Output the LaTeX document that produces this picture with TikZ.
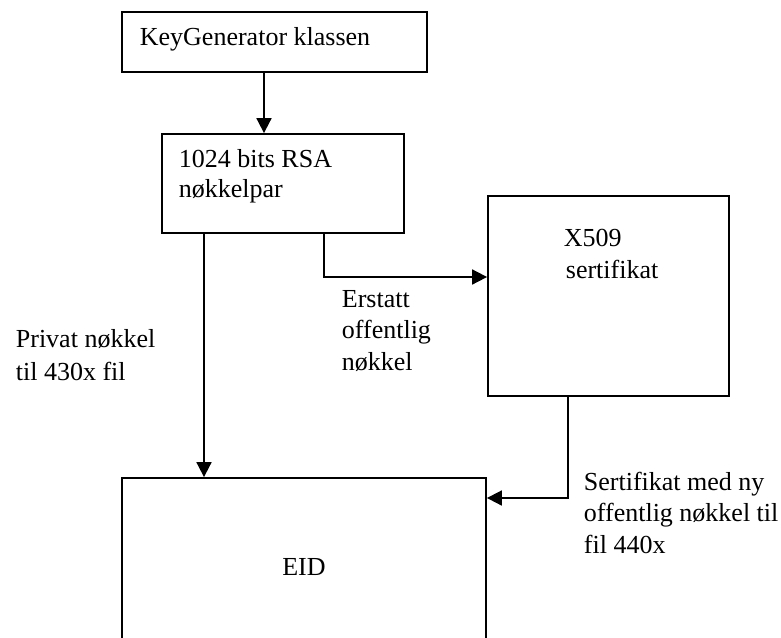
\documentclass[tikz,border=0pt]{standalone}
\usepackage{fontspec}
\setmainfont{Liberation Serif}
\usetikzlibrary{arrows.meta}
\begin{document}
\begin{tikzpicture}[x=1pt,y=-1pt,
  line width=1.8pt,
  every node/.style={font=\fontsize{26}{32}\selectfont},
  box/.style={draw, rectangle, inner sep=0pt, line width=1.8pt},
  txt/.style={anchor=base west, inner sep=0pt, align=left},
  skip/.style={font=\fontsize{26}{#1}\selectfont},
  arr/.style={-{Triangle[length=15pt,width=15pt]}}]
  \useasboundingbox (0,0) rectangle (781,637);
  \clip (0,0) rectangle (781,637);

  % boxes
  \node[box, minimum width=305pt, minimum height=60pt]  (kg)   at (274.5,42) {};
  \node[box, minimum width=242pt, minimum height=99pt]  (rsa)  at (283,183.5) {};
  \node[box, minimum width=241pt, minimum height=200pt] (x509) at (608.5,296) {};
  \node[box, minimum width=364pt, minimum height=178pt] (eid)  at (304,567) {EID};

  % box texts (anchored at the baseline of the last line)
  \node[txt] (kgtext)   at (139,45)  {KeyGenerator klassen};
  \node[txt, skip=30] (rsatext)  at (178,197) {1024 bits RSA\\nøkkelpar};
  \node[txt, skip=32] (x509text) at (563,278) {X509\\\hspace*{2pt}sertifikat};

  % connector labels
  \node[txt, skip=33]   (privat)  at (15,380)  {Privat nøkkel\\til 430x fil};
  \node[txt, skip=31.5] (erstatt) at (341,370) {Erstatt\\offentlig\\nøkkel};
  \node[txt, skip=31.5] (sert)    at (583,553) {Sertifikat med ny\\offentlig nøkkel til\\fil 440x};

  % connectors
  \draw[arr] (kg.south -| 264,0) -- (rsa.north -| 264,0);
  \draw[arr] (rsa.south -| 204,0) -- (eid.north -| 204,0);
  \draw[arr] (rsa.south -| 324,0) |- (x509.west |- 0,277);
  \draw[arr] (x509.south -| 568,0) |- (eid.east |- 0,498);
\end{tikzpicture}
\end{document}
